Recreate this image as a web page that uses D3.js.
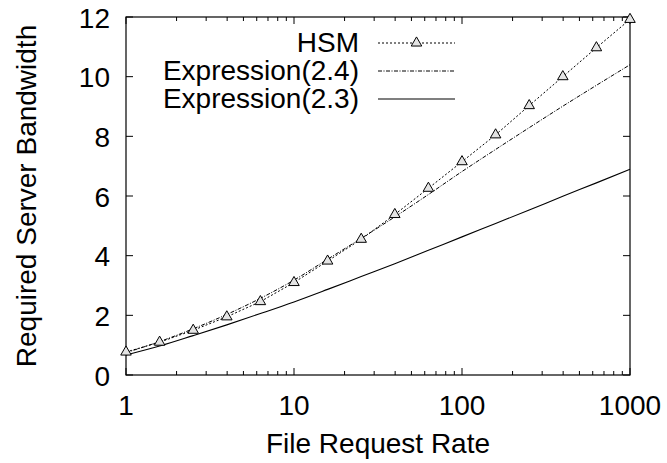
<!DOCTYPE html>
<html><head><meta charset="utf-8">
<script src="https://cdn.jsdelivr.net/npm/d3@7"></script>
<style>body{margin:0;background:#fff}svg{display:block}text{font-family:"Liberation Sans",Arial,sans-serif;fill:#000}</style>
</head><body><svg id="c" width="667" height="463"></svg>
<script>
const rates = [1, 1.585, 2.512, 3.981, 6.31, 10, 15.85, 25.12, 39.81, 63.1, 100, 158.5, 251.2, 398.1, 631, 1000];
const hsm = [0.77, 1.1, 1.5, 1.95, 2.46, 3.1, 3.82, 4.55, 5.38, 6.26, 7.15, 8.05, 9.03, 10.0, 10.97, 11.92];
const expr24 = [0.75, 1.12, 1.55, 2.03, 2.57, 3.18, 3.88, 4.58, 5.3, 6.05, 6.82, 7.56, 8.29, 9.01, 9.71, 10.4];
const expr23 = [0.67, 0.97, 1.32, 1.68, 2.06, 2.45, 2.87, 3.3, 3.73, 4.18, 4.63, 5.08, 5.53, 5.99, 6.44, 6.9];
const xTicks = [1, 10, 100, 1000];
const yTicks = [0, 2, 4, 6, 8, 10, 12];
const seriesNames = ["HSM", "Expression(2.4)", "Expression(2.3)"];

const svg = d3.select("#c");
const L = 126, R = 630, T = 17, B = 375;
const x = d3.scaleLog().domain([1, 1000]).range([L, R]);
const y = d3.scaleLinear().domain([0, 12]).range([B, T]);
const FS = 28;

svg.append("rect").attr("x", L).attr("y", T).attr("width", R - L).attr("height", B - T)
  .attr("fill", "none").attr("stroke", "#000").attr("stroke-width", 1.2);

const minor = [];
for (let d = 1; d < 1000; d *= 10) for (let k = 2; k <= 9; k++) minor.push(d * k);
const tg = svg.append("g").attr("stroke", "#000").attr("stroke-width", 1);
minor.forEach(v => {
  tg.append("line").attr("x1", x(v)).attr("x2", x(v)).attr("y1", B).attr("y2", B - 4);
  tg.append("line").attr("x1", x(v)).attr("x2", x(v)).attr("y1", T).attr("y2", T + 4);
});
xTicks.forEach(v => {
  tg.append("line").attr("x1", x(v)).attr("x2", x(v)).attr("y1", B).attr("y2", B - 7);
  tg.append("line").attr("x1", x(v)).attr("x2", x(v)).attr("y1", T).attr("y2", T + 7);
});
yTicks.forEach(v => {
  tg.append("line").attr("x1", L).attr("x2", L + 7).attr("y1", y(v)).attr("y2", y(v));
  tg.append("line").attr("x1", R).attr("x2", R - 7).attr("y1", y(v)).attr("y2", y(v));
});

xTicks.forEach(v => svg.append("text").attr("x", x(v)).attr("y", 415).attr("text-anchor", "middle")
  .attr("font-size", FS).text(d3.format("d")(v)));
yTicks.forEach(v => svg.append("text").attr("x", 110).attr("y", y(v)).attr("dy", "0.38em")
  .attr("text-anchor", "end").attr("font-size", FS).text(v));

svg.append("text").attr("x", (L + R) / 2).attr("y", 453).attr("text-anchor", "middle")
  .attr("font-size", FS).text("File Request Rate");
svg.append("text").attr("transform", `translate(36,${(T + B) / 2}) rotate(-90)`)
  .attr("text-anchor", "middle").attr("font-size", FS).text("Required Server Bandwidth");

const pts = vals => rates.map((r, i) => [r, vals[i]]);
const lineLin = d3.line().x(d => x(d[0])).y(d => y(d[1]));
const lineSmooth = d3.line().x(d => x(d[0])).y(d => y(d[1])).curve(d3.curveMonotoneX);

const DOT = "2,2", DASHDOT = "4,1.5,1,1.5";
svg.append("path").attr("d", lineSmooth(pts(expr23))).attr("fill", "none")
  .attr("stroke", "#000").attr("stroke-width", 1.1);
svg.append("path").attr("d", lineSmooth(pts(expr24))).attr("fill", "none")
  .attr("stroke", "#000").attr("stroke-width", 1).attr("stroke-dasharray", DASHDOT);
svg.append("path").attr("d", lineLin(pts(hsm))).attr("fill", "none")
  .attr("stroke", "#000").attr("stroke-width", 1).attr("stroke-dasharray", DOT);

const tri = d3.symbol().type(d3.symbolTriangle).size(48);
svg.append("g").selectAll("path").data(pts(hsm)).join("path")
  .attr("transform", d => `translate(${x(d[0])},${y(d[1])})`)
  .attr("d", tri).attr("fill", "#e4e4e4").attr("stroke", "#000").attr("stroke-width", 1);

const lx1 = 378, lx2 = 455, tx = 359;
const base = [52, 80, 108];
const styles = [{dash: DOT, w: 1}, {dash: DASHDOT, w: 1}, {dash: null, w: 1.1}];
seriesNames.forEach((n, i) => {
  svg.append("text").attr("x", tx).attr("y", base[i]).attr("text-anchor", "end")
    .attr("font-size", FS).text(n);
  const ly = base[i] - 9;
  const ln = svg.append("line").attr("x1", lx1).attr("x2", lx2).attr("y1", ly).attr("y2", ly)
    .attr("stroke", "#000").attr("stroke-width", styles[i].w);
  if (styles[i].dash) ln.attr("stroke-dasharray", styles[i].dash);
  if (i === 0) svg.append("path").attr("transform", `translate(${(lx1 + lx2) / 2},${ly})`)
    .attr("d", tri).attr("fill", "#e4e4e4").attr("stroke", "#000").attr("stroke-width", 1);
});
</script></body></html>
